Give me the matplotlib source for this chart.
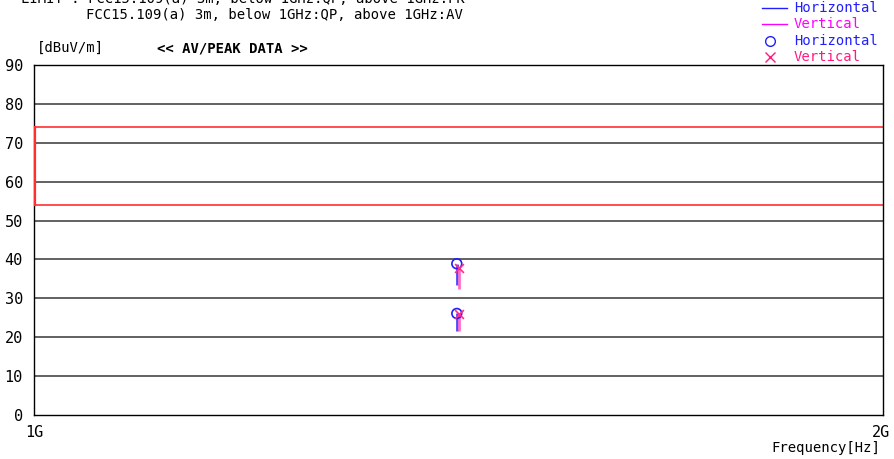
import numpy as np
import matplotlib.pyplot as plt

plt.rcParams['font.family'] = ['DejaVu Sans Mono', 'DejaVu Sans']

# limit line (dBuV/m) from 1G to 2G
limit_pk = 74
limit_av = 54

# peak data: frequency in GHz, top value and bottom of the line
h_freq = [1.498, 1.498]
h_top = [38.9, 26.1]
h_bottom = [33.5, 21.5]
v_freq = [1.501, 1.501]
v_top = [37.8, 25.9]
v_bottom = [32.5, 21.5]

y_ticks = [0, 10, 20, 30, 40, 50, 60, 70, 80, 90]

fig = plt.figure(figsize=(8.95, 4.59), dpi=100)
ax = fig.add_axes([0.038, 0.0959, 0.9486, 0.7625])

for t in y_ticks[1:-1]:
    ax.axhline(t, color='#555555', lw=1.3, zorder=1)

# limit lines
ax.plot([1, 2], [limit_pk, limit_pk], color='#ff4040', lw=1.3, zorder=2)
ax.plot([1, 2], [limit_av, limit_av], color='#ff4040', lw=1.3, zorder=2)
ax.plot([1.0008, 1.0008], [limit_av, limit_pk], color='#ff3030', lw=1.6, zorder=6, clip_on=False)

ax.vlines(h_freq, h_bottom, h_top, color='#4a4aff', lw=2.0, zorder=3)
ax.vlines(v_freq, v_bottom, v_top, color='#ff6ec8', lw=2.0, zorder=3)
ax.scatter(h_freq, h_top, marker='o', s=50, facecolors='none', edgecolors='#2020ff', lw=1.2, zorder=4)
ax.scatter(v_freq, v_top, marker='x', s=40, color='#ff2a8a', lw=1.2, zorder=5)

ax.set_xlim(1, 2)
ax.set_ylim(0, 90)
ax.set_xticks([])
ax.set_yticks(y_ticks)
ax.set_yticklabels([str(t) for t in y_ticks], fontsize=11)
ax.tick_params(axis='y', length=0, pad=8)
for s in ax.spines.values():
    s.set_color('black')
    s.set_linewidth(1.0)

fs = 10
fig.text(0.024, 1.003, 'LIMIT : FCC15.109(a) 3m, below 1GHz:QP, above 1GHz:PK', fontsize=fs, va='center')
fig.text(0.096, 0.967, 'FCC15.109(a) 3m, below 1GHz:QP, above 1GHz:AV', fontsize=fs, va='center')
fig.text(0.041, 0.895, '[dBuV/m]', fontsize=fs, va='center')
fig.text(0.175, 0.895, '<< AV/PEAK DATA >>', fontsize=fs, va='center', fontweight='bold')
fig.text(0.038, 0.058, '1G', fontsize=11, ha='center', va='center')
fig.text(0.984, 0.058, '2G', fontsize=11, ha='center', va='center')
fig.text(0.983, 0.025, 'Frequency[Hz]', fontsize=fs, ha='right', va='center')

# legend at top right
lx0, lx1, tx = 0.851, 0.879, 0.887
rows = [0.9826, 0.9477, 0.9107, 0.8758]
fig.add_artist(plt.Line2D([lx0, lx1], [rows[0], rows[0]], color='#2020ff', lw=1.0))
fig.add_artist(plt.Line2D([lx0, lx1], [rows[1], rows[1]], color='#ff00ff', lw=1.0))
fig.add_artist(plt.Line2D([0.8605], [rows[2]], marker='o', mfc='none', mec='#2020ff', ms=7))
fig.add_artist(plt.Line2D([0.8605], [rows[3]], marker='x', color='#ff1a80', ms=7))
fig.text(tx, rows[0], 'Horizontal', color='#2020ff', fontsize=fs, va='center')
fig.text(tx, rows[1], 'Vertical', color='#ff00ff', fontsize=fs, va='center')
fig.text(tx, rows[2], 'Horizontal', color='#2020ff', fontsize=fs, va='center')
fig.text(tx, rows[3], 'Vertical', color='#ff1a80', fontsize=fs, va='center')

fig.savefig('out.png', dpi=100)
